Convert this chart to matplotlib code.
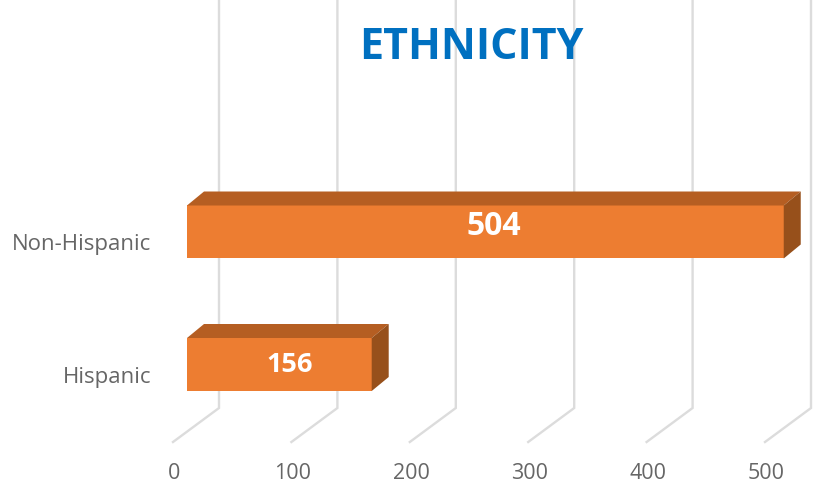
import matplotlib
matplotlib.use('Agg')
import matplotlib.pyplot as plt
from matplotlib.patches import Polygon

categories = ['Hispanic', 'Non-Hispanic']
counts = [156, 504]
ticks = [0, 100, 200, 300, 400, 500]
title = 'ETHNICITY'

# pixel layout of the fake 3D box
W, H = 819, 486
x0, px_per_unit = 187, 1.184
y0, px_per_cat = 364.5, 132.5
depth_x = 17 / px_per_unit
depth_y = 14 / px_per_cat
half = 26.5 / px_per_cat
label_sizes = [19.5, 23]
label_dx = [9, 7]
label_dy = [-0.005, 0.04]

plt.rcParams['font.family'] = ['Open Sans', 'DejaVu Sans']

fig = plt.figure(figsize=(W / 100, H / 100), dpi=100)
ax = fig.add_axes([0, 0, 1, 1])
ax.set_xlim(-x0 / px_per_unit, (W - x0) / px_per_unit)
ax.set_ylim((y0 - H) / px_per_cat, y0 / px_per_cat)
ax.axis('off')

# gridlines: vertical on the back wall, then a diagonal on the floor
back = 32 / px_per_unit
front = -14 / px_per_unit
floor_back = (y0 - 408) / px_per_cat
floor_front = (y0 - 442) / px_per_cat
top = y0 / px_per_cat
for t in ticks:
    ax.plot([t + back, t + back, t + front], [top, floor_back, floor_front],
            color='#dcdcdc', lw=1.7, solid_joinstyle='miter', zorder=1)
    ax.text(t + front + 1, (y0 - 473) / px_per_cat, str(t), color='#666666',
            fontsize=15.5, ha='center', va='center')

for i, (name, v) in enumerate(zip(categories, counts)):
    ax.barh(i, v, height=half * 2, color='#ed7d31', zorder=3)
    ax.add_patch(Polygon([(0, i + half), (depth_x, i + half + depth_y),
                          (v + depth_x, i + half + depth_y), (v, i + half)],
                         closed=True, facecolor='#b55e22', edgecolor='none', zorder=3))
    ax.add_patch(Polygon([(v, i + half), (v + depth_x, i + half + depth_y),
                          (v + depth_x, i - half + depth_y), (v, i - half)],
                         closed=True, facecolor='#97501b', edgecolor='none', zorder=3))
    ax.text(v / 2 + label_dx[i], i + label_dy[i], str(v), color='white', fontsize=label_sizes[i],
            fontweight='bold', ha='center', va='center', zorder=4)
    ax.text(-30, i - 0.095, name, color='#666666', fontsize=16,
            ha='right', va='center')

ax.text((471 - x0) / px_per_unit, (y0 - 48) / px_per_cat, title, color='#0070c0', fontsize=31,
        fontweight='bold', ha='center', va='center', zorder=4)

fig.savefig('out.png', dpi=100)
